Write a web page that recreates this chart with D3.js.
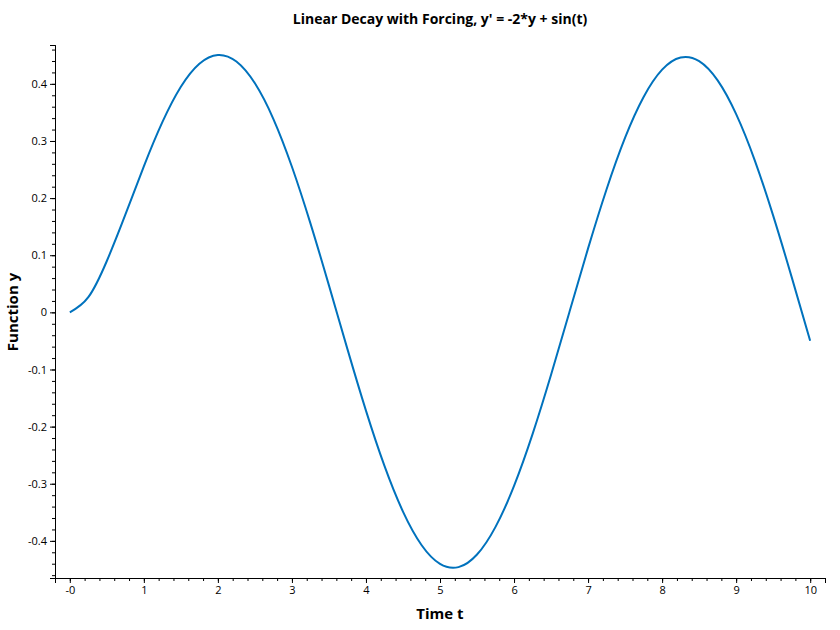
<!DOCTYPE html>
<html><head><meta charset="utf-8">
<script src="https://cdn.jsdelivr.net/npm/d3@7"></script>
<style>body{margin:0;background:#fff}text{font-family:"Segoe UI","Open Sans","Noto Sans",sans-serif}</style>
</head><body><svg id="c" width="840" height="630"></svg>
<script>
const tValues=[0,0.25,0.5,0.75,1,1.25,1.5,1.75,2,2.25,2.5,2.75,3,3.25,3.5,3.75,4,4.25,4.5,4.75,5,5.25,5.5,5.75,6,6.25,6.5,6.75,7,7.25,7.5,7.75,8,8.25,8.5,8.75,9,9.25,9.5,9.75,10];
const yValues=[0,0.0265,0.0899,0.1709,0.2556,0.3329,0.3949,0.4352,0.4506,0.4390,0.4009,0.3384,0.2549,0.1558,0.0472,-0.0644,-0.1720,-0.2688,-0.3488,-0.4072,-0.4403,-0.4460,-0.4239,-0.3755,-0.3038,-0.2132,-0.1093,0.0014,0.1120,0.2156,0.3059,0.3771,0.4249,0.4462,0.4398,0.4061,0.3470,0.2666,0.1693,0.0617,-0.0498];
const xTicks=[0,1,2,3,4,5,6,7,8,9,10];
const xTickLabels=["-0","1","2","3","4","5","6","7","8","9","10"];
const yTicks=[0.4,0.3,0.2,0.1,0,-0.1,-0.2,-0.3,-0.4];
const yTickLabels=["0.4","0.3","0.2","0.1","0","-0.1","-0.2","-0.3","-0.4"];

const svg=d3.select("#c");
const L=55,R=825,T=45,B=578;
const x=d3.scaleLinear().domain([-0.2,10.2]).range([L,R]);
const y=d3.scaleLinear().domain([-0.465,0.468]).range([B,T]);

const xMinor=d3.range(-0.2,10.21,0.2).map(v=>+v.toFixed(2));
const yMinor=d3.range(-0.46,0.47,0.02).map(v=>+v.toFixed(2));

const xa=svg.append("g").attr("transform",`translate(0,${B})`);
xa.call(d3.axisBottom(x).tickValues(xMinor).tickSize(3).tickFormat(""));
xa.call(g=>g.append("g").call(d3.axisBottom(x).tickValues(xTicks).tickSize(5).tickFormat((d,i)=>xTickLabels[i])));
const ya=svg.append("g").attr("transform",`translate(${L},0)`);
ya.call(d3.axisLeft(y).tickValues(yMinor).tickSize(3).tickFormat(""));
ya.call(g=>g.append("g").call(d3.axisLeft(y).tickValues(yTicks).tickSize(5).tickFormat((d,i)=>yTickLabels[i])));
svg.selectAll(".domain").attr("stroke","#000");
svg.selectAll(".tick text").attr("font-size",11).attr("fill","#000");
svg.selectAll(".tick line").attr("stroke","#000");

svg.append("path").datum(tValues.map((t,i)=>[t,yValues[i]]))
 .attr("fill","none").attr("stroke","#0072bd").attr("stroke-width",2)
 .attr("d",d3.line().x(d=>x(d[0])).y(d=>y(d[1])).curve(d3.curveNatural));

svg.append("text").attr("x",440).attr("y",24).attr("text-anchor","middle").attr("font-size",14).attr("font-weight","bold").text("Linear Decay with Forcing, y' = -2*y + sin(t)");
svg.append("text").attr("x",440).attr("y",619).attr("text-anchor","middle").attr("font-size",15).attr("font-weight","bold").text("Time t");
svg.append("text").attr("transform","translate(18,312) rotate(-90)").attr("text-anchor","middle").attr("font-size",15).attr("font-weight","bold").text("Function y");
</script></body></html>
